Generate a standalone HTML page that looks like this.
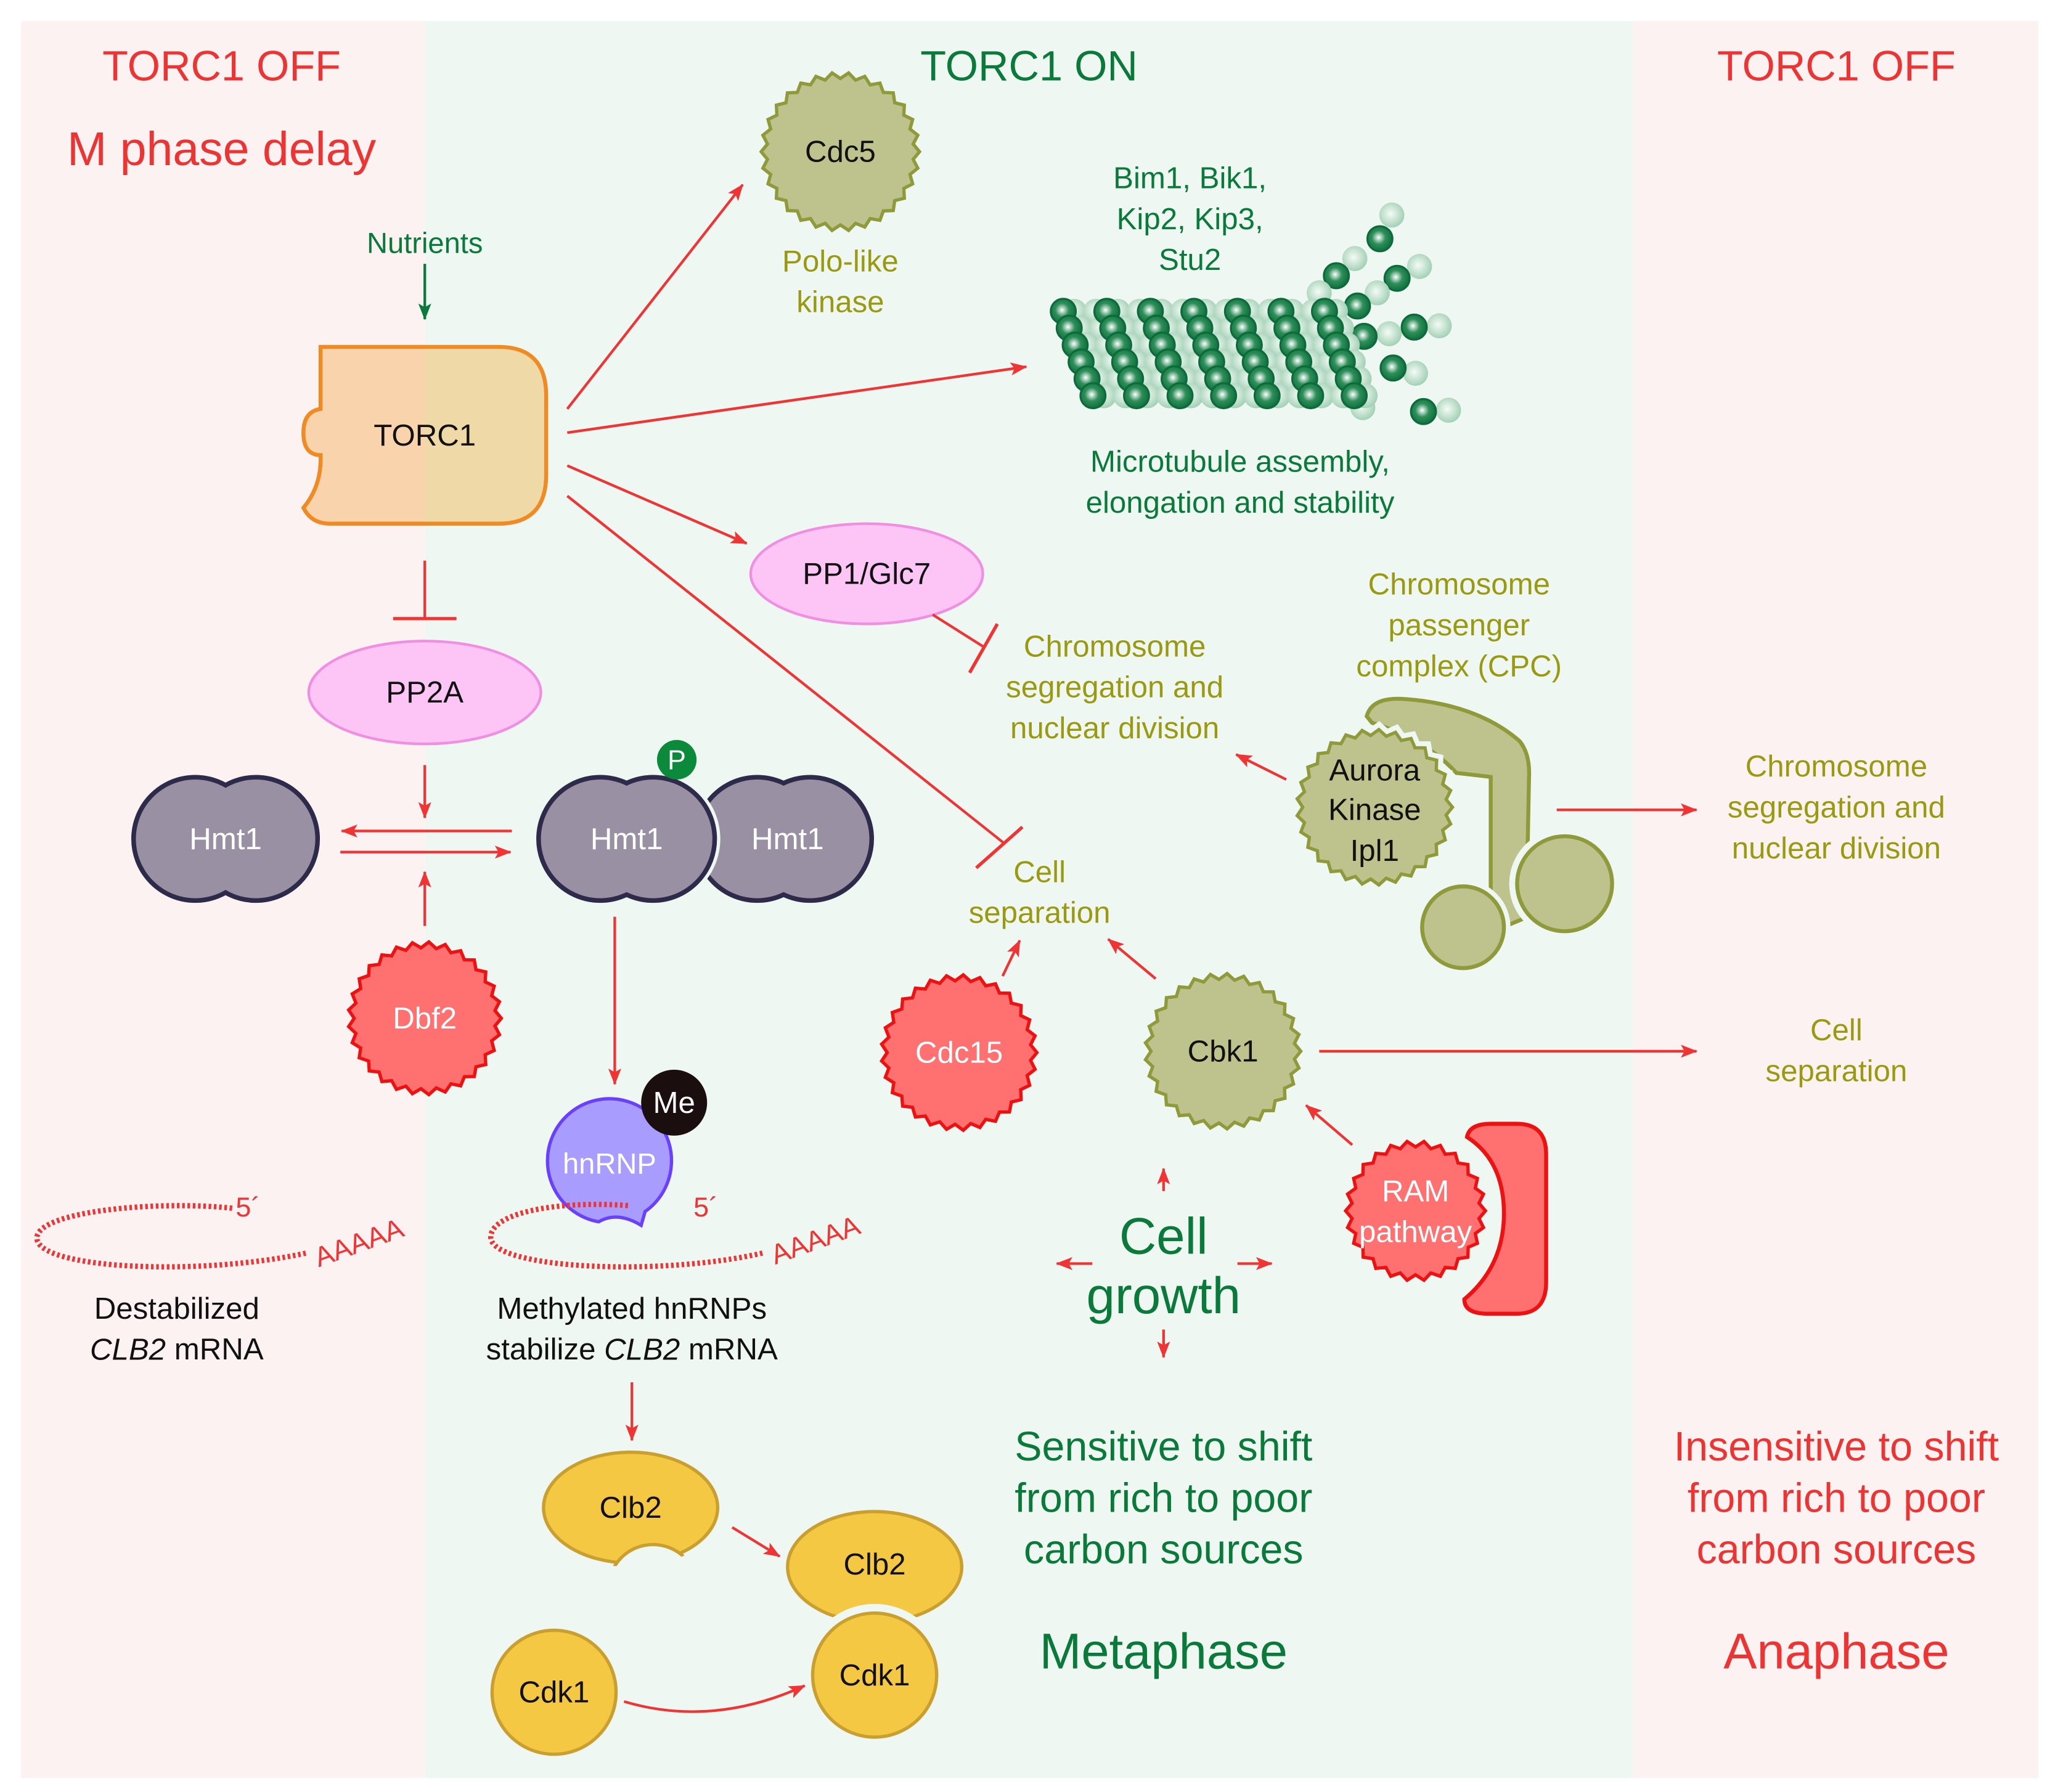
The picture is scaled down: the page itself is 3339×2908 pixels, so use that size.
<!DOCTYPE html>
<html><head><meta charset="utf-8"><style>
html,body{margin:0;padding:0;background:#fff}
svg{display:block}
text{font-family:"Liberation Sans",Arial,sans-serif;text-anchor:middle;dominant-baseline:central}
</style></head><body>
<svg id="s" width="3339" height="2908" viewBox="0 0 1560 1358.6" xmlns="http://www.w3.org/2000/svg">
<defs>
<marker id="ar" viewBox="0 0 10 10" refX="9" refY="5" markerWidth="7" markerHeight="7" orient="auto-start-reverse" markerUnits="userSpaceOnUse" style="overflow:visible"><path d="M-8,-2 L10,5 L-8,12 L-4,5Z" fill="#f03333"/></marker>
<marker id="ag" viewBox="0 0 10 10" refX="9" refY="5" markerWidth="7" markerHeight="7" orient="auto" markerUnits="userSpaceOnUse" style="overflow:visible"><path d="M-8,-2 L10,5 L-8,12 L-4,5Z" fill="#0a7a3a"/></marker>
<linearGradient id="tg" x1="0" x2="1"><stop offset="0" stop-color="#f9d3ab"/><stop offset="0.5" stop-color="#f9d3ab"/><stop offset="0.5" stop-color="#efd9a6"/><stop offset="1" stop-color="#efd9a6"/></linearGradient>
<radialGradient id="bd" cx="0.45" cy="0.45" r="0.6"><stop offset="0" stop-color="#ffffff"/><stop offset="0.45" stop-color="#2f8f5a"/><stop offset="1" stop-color="#0b6b3a"/></radialGradient>
<radialGradient id="bl" cx="0.45" cy="0.45" r="0.6"><stop offset="0" stop-color="#f4fbf6"/><stop offset="1" stop-color="#9ccdb0"/></radialGradient>
<clipPath id="c1"><ellipse cx="478" cy="1143" rx="69" ry="45"/></clipPath>
</defs>
<rect width="1560" height="1358.6" fill="#fff"/>
<rect x="16" y="16" width="306" height="1332" fill="#fdf2f2"/>
<rect x="322" y="16" width="916" height="1332" fill="#eef7f1"/>
<rect x="1238" y="16" width="307" height="1332" fill="#fdf2f2"/>

<g font-size="32">
<text x="168" y="50" fill="#ee3333">TORC1 OFF</text>
<text x="780" y="50" fill="#0a7a3a">TORC1 ON</text>
<text x="1392" y="50" fill="#ee3333">TORC1 OFF</text>
</g>
<text x="168" y="113" font-size="36" fill="#ee3333">M phase delay</text>

<text x="322" y="184" font-size="22" fill="#0a7a3a">Nutrients</text>
<line x1="322" y1="200" x2="322" y2="242" stroke="#0a7a3a" stroke-width="2" marker-end="url(#ag)"/>

<path d="M243,263 H378 Q414,263 414,300 V360 Q414,397 378,397 H250 Q236,397 230,385 Q244,368 243,345 Q230,345 230,328 Q230,312 243,310 Z" fill="url(#tg)" stroke="#f08a22" stroke-width="3"/>
<text x="322" y="330" font-size="23" fill="#111">TORC1</text>

<line x1="322" y1="425" x2="322" y2="468" stroke="#f03333" stroke-width="2"/>
<line x1="298" y1="469" x2="346" y2="469" stroke="#f03333" stroke-width="2.5"/>
<ellipse cx="322" cy="525" rx="88" ry="39" fill="#fdc4f6" stroke="#f08ee0" stroke-width="2"/>
<text x="322" y="525" font-size="23" fill="#111">PP2A</text>
<line x1="322" y1="580" x2="322" y2="620" stroke="#f03333" stroke-width="2" marker-end="url(#ar)"/>

<g fill="#9a90a3" stroke="#2d2a4a" stroke-width="5">
<circle cx="148" cy="636" r="46"/><circle cx="194" cy="636" r="46"/>
</g>
<g fill="#9a90a3"><circle cx="148" cy="636" r="45"/><circle cx="194" cy="636" r="45"/></g>
<text x="171" y="636" font-size="23" fill="#fff">Hmt1</text>

<line x1="388" y1="630" x2="259" y2="630" stroke="#f03333" stroke-width="2" marker-end="url(#ar)"/>
<line x1="258" y1="646" x2="387" y2="646" stroke="#f03333" stroke-width="2" marker-end="url(#ar)"/>
<line x1="322" y1="702" x2="322" y2="661" stroke="#f03333" stroke-width="2" marker-end="url(#ar)"/>

<g fill="#9a90a3" stroke="#2d2a4a" stroke-width="5">
<circle cx="574" cy="636" r="46"/><circle cx="614" cy="636" r="46"/>
</g>
<g fill="#9a90a3"><circle cx="574" cy="636" r="45"/><circle cx="614" cy="636" r="45"/></g>
<g fill="#eef7f1"><circle cx="455" cy="636" r="51"/><circle cx="495" cy="636" r="51"/></g>
<g fill="#9a90a3" stroke="#2d2a4a" stroke-width="5">
<circle cx="455" cy="636" r="46"/><circle cx="495" cy="636" r="46"/>
</g>
<g fill="#9a90a3"><circle cx="455" cy="636" r="45"/><circle cx="495" cy="636" r="45"/></g>
<text x="475" y="636" font-size="23" fill="#fff">Hmt1</text>
<text x="597" y="636" font-size="23" fill="#fff">Hmt1</text>
<circle cx="513" cy="576" r="15" fill="#0a8a3a"/>
<text x="513" y="576" font-size="21" fill="#fff">P</text>

<line x1="466" y1="695" x2="466" y2="822" stroke="#f03333" stroke-width="2" marker-end="url(#ar)"/>

<g id="stars"></g>
<text x="322" y="772" font-size="23" fill="#fff">Dbf2</text>

<path d="M489,918.5 A47,47 0 1,0 453.8,926.3 Q468,918 486,929 Z" fill="#a99cff" stroke="#6a40ff" stroke-width="2.5"/>
<text x="462" y="882" font-size="22" fill="#fff">hnRNP</text>
<circle cx="511" cy="836" r="25" fill="#1a0e0e"/>
<text x="511" y="836" font-size="23" fill="#fff">Me</text>

<path d="M176,916 C120,910 30,918 28,938 C26,962 150,968 232,950" fill="none" stroke="#f03333" stroke-width="4" stroke-dasharray="2 2"/>
<text x="188" y="915" font-size="21" fill="#f03333">5´</text>
<text x="272" y="942" font-size="21" fill="#f03333" transform="rotate(-20 272 942)">AAAAA</text>
<path d="M476,914 C420,910 372,920 372,938 C372,962 500,968 578,950" fill="none" stroke="#f03333" stroke-width="4" stroke-dasharray="2 2"/>
<text x="535" y="915" font-size="21" fill="#f03333">5´</text>
<text x="618" y="940" font-size="21" fill="#f03333" transform="rotate(-20 618 940)">AAAAA</text>

<g font-size="23" fill="#111">
<text x="134" y="992">Destabilized</text>
<text x="134" y="1023"><tspan font-style="italic">CLB2</tspan> mRNA</text>
<text x="479" y="992">Methylated hnRNPs</text>
<text x="479" y="1023">stabilize <tspan font-style="italic">CLB2</tspan> mRNA</text>
</g>
<line x1="479" y1="1048" x2="479" y2="1092" stroke="#f03333" stroke-width="2" marker-end="url(#ar)"/>

<ellipse cx="478" cy="1143" rx="66" ry="42" fill="#f4c842" stroke="#c9a030" stroke-width="2.5"/>
<circle cx="495" cy="1205" r="34" fill="#eef7f1" stroke="#c9a030" stroke-width="2.5" clip-path="url(#c1)"/>
<text x="478" y="1143" font-size="23" fill="#111">Clb2</text>
<ellipse cx="663" cy="1188" rx="66" ry="42" fill="#f4c842" stroke="#c9a030" stroke-width="2.5"/>
<circle cx="663" cy="1270" r="54" fill="#eef7f1"/>
<circle cx="663" cy="1270" r="47" fill="#f4c842" stroke="#c9a030" stroke-width="2.5"/>
<text x="663" y="1186" font-size="23" fill="#111">Clb2</text>
<text x="663" y="1270" font-size="23" fill="#111">Cdk1</text>
<circle cx="420" cy="1283" r="47" fill="#f4c842" stroke="#c9a030" stroke-width="2.5"/>
<text x="420" y="1283" font-size="23" fill="#111">Cdk1</text>
<line x1="555" y1="1158" x2="591" y2="1180" stroke="#f03333" stroke-width="2" marker-end="url(#ar)"/>
<path d="M473,1290 Q540,1310 610,1278" fill="none" stroke="#f03333" stroke-width="2" marker-end="url(#ar)"/>

<line x1="430" y1="310" x2="563" y2="140" stroke="#f03333" stroke-width="2" marker-end="url(#ar)"/>
<line x1="430" y1="328" x2="778" y2="278" stroke="#f03333" stroke-width="2" marker-end="url(#ar)"/>
<line x1="430" y1="353" x2="566" y2="412" stroke="#f03333" stroke-width="2" marker-end="url(#ar)"/>
<line x1="430" y1="376" x2="762" y2="640" stroke="#f03333" stroke-width="2"/>
<line x1="740" y1="658" x2="775" y2="627" stroke="#f03333" stroke-width="2.5"/>

<text x="637" y="115" font-size="23" fill="#111" id="cdc5t">Cdc5</text>
<g font-size="23" fill="#9a9a10">
<text x="637" y="198">Polo-like</text><text x="637" y="229">kinase</text>
</g>
<g font-size="23" fill="#0a7a3a">
<text x="902" y="135">Bim1, Bik1,</text><text x="902" y="166">Kip2, Kip3,</text><text x="902" y="197">Stu2</text>
<text x="940" y="350">Microtubule assembly,</text><text x="940" y="381">elongation and stability</text>
</g>
<g id="mt"></g>

<ellipse cx="657" cy="435" rx="88" ry="38" fill="#fdc4f6" stroke="#f08ee0" stroke-width="2"/>
<text x="657" y="435" font-size="23" fill="#111">PP1/Glc7</text>
<line x1="707" y1="466" x2="745" y2="490" stroke="#f03333" stroke-width="2"/>
<line x1="735" y1="510" x2="756" y2="473" stroke="#f03333" stroke-width="2.5"/>

<g font-size="23" fill="#9a9a10">
<text x="845" y="490">Chromosome</text><text x="845" y="521">segregation and</text><text x="845" y="552">nuclear division</text>
<text x="1106" y="443">Chromosome</text><text x="1106" y="474">passenger</text><text x="1106" y="505">complex (CPC)</text>
<text x="1392" y="581">Chromosome</text><text x="1392" y="612">segregation and</text><text x="1392" y="643">nuclear division</text>
<text x="788" y="661">Cell</text><text x="788" y="692">separation</text>
<text x="1392" y="781">Cell</text><text x="1392" y="812">separation</text>
</g>

<path d="M1036,543 Q1040,528 1065,530 Q1120,534 1152,562 Q1160,572 1159,590 L1158,642 Q1146,670 1156,696 L1144,701 L1130,676 L1130,589 L1104,586 Q1080,560 1040,548 Z" fill="#bec28d" stroke="#8f9a3a" stroke-width="3"/>
<circle cx="1186" cy="670" r="42" fill="#eef7f1"/>
<circle cx="1186" cy="670" r="36" fill="#bec28d" stroke="#8f9a3a" stroke-width="3"/>
<circle cx="1109" cy="703" r="36" fill="#eef7f1"/>
<circle cx="1109" cy="703" r="31" fill="#bec28d" stroke="#8f9a3a" stroke-width="3"/>
<g id="stars2"></g>
<g font-size="23" fill="#111">
<text x="1042" y="584">Aurora</text><text x="1042" y="614">Kinase</text><text x="1042" y="645">Ipl1</text>
</g>
<line x1="975" y1="591" x2="937" y2="572" stroke="#f03333" stroke-width="2" marker-end="url(#ar)"/>
<line x1="1180" y1="614" x2="1286" y2="614" stroke="#f03333" stroke-width="2" marker-end="url(#ar)"/>

<path d="M1130,852 H1150 Q1172,852 1172,875 V972 Q1172,996 1150,996 H1128 Q1110,996 1110,985 Q1140,960 1140,920 Q1140,880 1112,862 Q1114,852 1130,852 Z" fill="#ff7070" stroke="#ee1111" stroke-width="3"/>
<g id="stars3"></g>
<text x="727" y="798" font-size="23" fill="#fff">Cdc15</text>
<text x="927" y="797" font-size="23" fill="#111">Cbk1</text>
<text x="1073" y="903" font-size="23" fill="#fff">RAM</text>
<text x="1073" y="934" font-size="23" fill="#fff">pathway</text>

<line x1="760" y1="740" x2="773" y2="713" stroke="#f03333" stroke-width="2" marker-end="url(#ar)"/>
<line x1="876" y1="742" x2="840" y2="712" stroke="#f03333" stroke-width="2" marker-end="url(#ar)"/>
<line x1="1000" y1="797" x2="1286" y2="797" stroke="#f03333" stroke-width="2" marker-end="url(#ar)"/>
<line x1="1025" y1="868" x2="990" y2="838" stroke="#f03333" stroke-width="2" marker-end="url(#ar)"/>

<g font-size="39" fill="#0a7a3a">
<text x="882" y="937">Cell</text><text x="882" y="982">growth</text>
</g>
<g stroke="#f03333" stroke-width="2">
<line x1="882" y1="903" x2="882" y2="886" marker-end="url(#ar)"/>
<line x1="882" y1="1008" x2="882" y2="1029" marker-end="url(#ar)"/>
<line x1="828" y1="958" x2="801" y2="958" marker-end="url(#ar)"/>
<line x1="938" y1="958" x2="964" y2="958" marker-end="url(#ar)"/>
</g>
<g font-size="31" fill="#0a7a3a">
<text x="882" y="1097">Sensitive to shift</text><text x="882" y="1136">from rich to poor</text><text x="882" y="1175">carbon sources</text>
</g>
<text x="882" y="1252" font-size="38" fill="#0a7a3a">Metaphase</text>
<g font-size="31" fill="#ee3333">
<text x="1392" y="1097">Insensitive to shift</text><text x="1392" y="1136">from rich to poor</text><text x="1392" y="1175">carbon sources</text>
</g>
<text x="1392" y="1252" font-size="38" fill="#ee3333">Anaphase</text>
</svg>
<script>
var NS="http://www.w3.org/2000/svg";
function star(g,cx,cy,r,fill,stroke,bg){
 var n=Math.round(r*0.5),pts=[];
 for(var i=0;i<n*2;i++){var a=i*Math.PI/n,rr=i%2?r-3.5:r+1;pts.push((cx+rr*Math.cos(a)).toFixed(1)+","+(cy+rr*Math.sin(a)).toFixed(1));}
 if(bg){var b=document.createElementNS(NS,"polygon");b.setAttribute("points",pts.join(" "));b.setAttribute("fill",bg);b.setAttribute("stroke",bg);b.setAttribute("stroke-width","10");g.appendChild(b);}
 var p=document.createElementNS(NS,"polygon");p.setAttribute("points",pts.join(" "));p.setAttribute("fill",fill);p.setAttribute("stroke",stroke);p.setAttribute("stroke-width","2.5");
 g.appendChild(p);}
star(document.getElementById("stars"),322,772,57,"#ff7070","#ee1111");
var c5=document.createElementNS(NS,"g");document.getElementById("s").insertBefore(c5,document.getElementById("cdc5t"));
star(c5,637,115,59,"#bec28d","#8f9a3a");
star(document.getElementById("stars2"),1042,612,58,"#bec28d","#8f9a3a","#eef7f1");
var s3=document.getElementById("stars3");
star(s3,727,798,58,"#ff7070","#ee1111");
star(s3,927,797,58,"#bec28d","#8f9a3a");
star(s3,1073,918,52,"#ff7070","#ee1111","#eef7f1");
var mt=document.getElementById("mt");
function bead(x,y,d){var c=document.createElementNS(NS,"circle");c.setAttribute("cx",x);c.setAttribute("cy",y);c.setAttribute("r",9.5);c.setAttribute("fill",d?"url(#bd)":"url(#bl)");if(d){c.setAttribute("stroke","#0b6b3a");c.setAttribute("stroke-width","1.5");}mt.appendChild(c);}
var loose=[[1055,163,0],[1046,181,1],[1027,196,0],[1013,209,1],[1000,222,0],[1076,202,0],[1059,211,1],[1044,222,0],[1029,232,1],[1091,247,0],[1072,248,1],[1053,253,0],[1034,255,1],[1018,270,0],[1073,283,0],[1056,279,1],[1028,292,0],[1098,311,0],[1079,312,1],[1033,309,0]];
loose.forEach(function(b){bead(b[0],b[1],b[2]);});
for(var r=0;r<6;r++){for(var c=0;c<26;c++){if(c%2==1)bead(806+c*8.25+r*4.5,236+r*12.8,false);}}
for(var r=0;r<6;r++){for(var c=0;c<13;c++){if(c%2==0)bead(806+c*16.5+r*4.5,236+r*12.8,true);}}
</script>
</body></html>
